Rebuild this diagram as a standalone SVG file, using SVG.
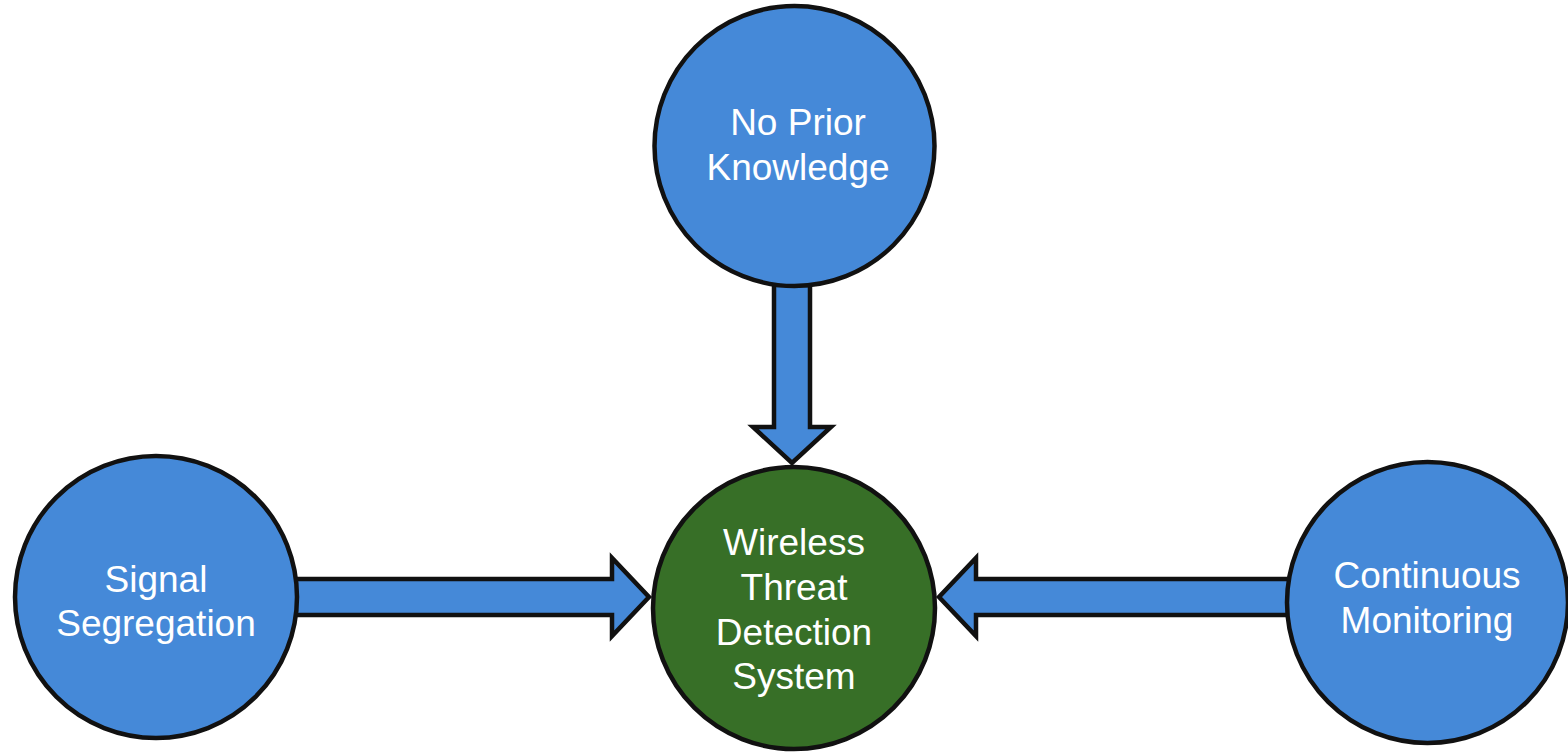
<svg xmlns="http://www.w3.org/2000/svg" width="1568" height="753" viewBox="0 0 1568 753">
<style>
.arrow{fill:#4589D8;stroke:#111;stroke-width:4.5;stroke-linejoin:miter;stroke-miterlimit:10}
.node{stroke:#111;stroke-width:4.5}
.blue{fill:#4589D8}
.green{fill:#376F27}
.lbl{font-family:"Liberation Sans",Arial,sans-serif;font-size:37px;fill:#fff;text-anchor:middle}
</style>
<rect width="1568" height="753" fill="#fff"/>
<g id="connectors">
<polygon class="arrow" points="774,285 810,285 810,427 831,427 792,463 753,427 774,427"/>
<polygon class="arrow" points="294,579 612,579 612,558 649,597 612,636 612,615 294,615"/>
<polygon class="arrow" points="1290,579 976,579 976,558 939,597 976,636 976,615 1290,615"/>
</g>
<g id="node-top">
<circle class="node blue" cx="794.5" cy="146" r="140"/>
<text class="lbl" x="798" y="135">No Prior</text>
<text class="lbl" x="798" y="180">Knowledge</text>
</g>
<g id="node-left">
<circle class="node blue" cx="156" cy="597" r="141"/>
<text class="lbl" x="156" y="592">Signal</text>
<text class="lbl" x="156" y="636">Segregation</text>
</g>
<g id="node-center">
<circle class="node green" cx="794" cy="608" r="141"/>
<text class="lbl" x="794" y="555">Wireless</text>
<text class="lbl" x="794" y="600">Threat</text>
<text class="lbl" x="794" y="645">Detection</text>
<text class="lbl" x="794" y="689">System</text>
</g>
<g id="node-right">
<circle class="node blue" cx="1427.5" cy="602.5" r="140.5"/>
<text class="lbl" x="1427" y="588">Continuous</text>
<text class="lbl" x="1427" y="633">Monitoring</text>
</g>
</svg>
